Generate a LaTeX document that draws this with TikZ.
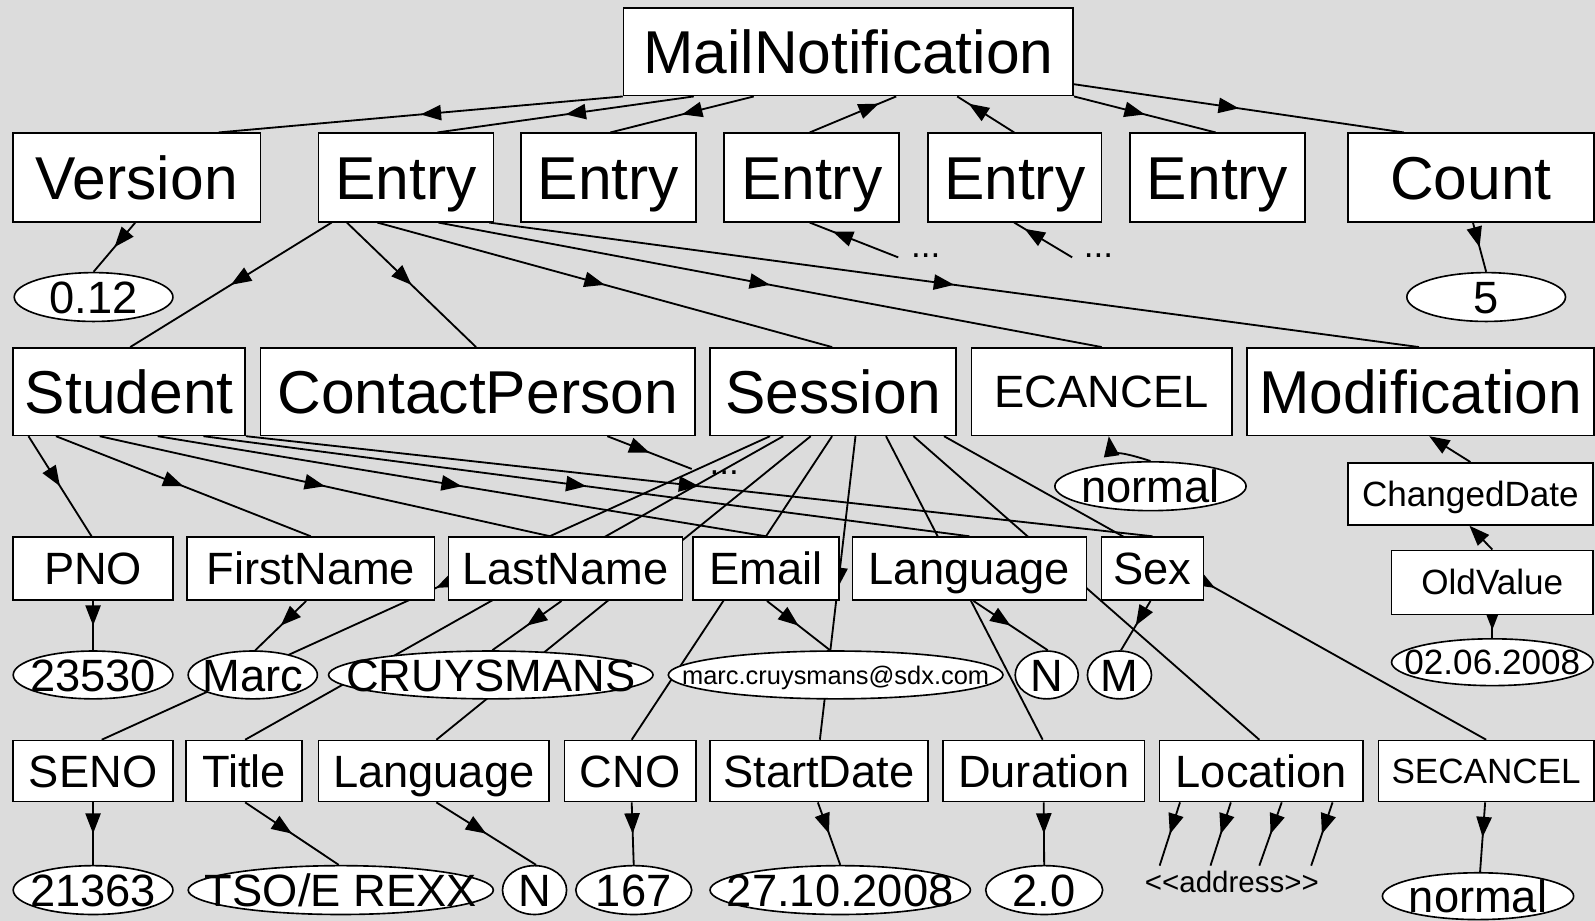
\documentclass[tikz,border=0pt]{standalone}
\usepackage{fontspec}
\setmainfont{Liberation Sans}
\usetikzlibrary{arrows.meta,shapes.geometric,decorations.markings,calc}
\definecolor{canvas}{RGB}{220,220,220}
\pgfdeclarelayer{bg}
\pgfdeclarelayer{edges}
\pgfsetlayers{bg,edges,main}
\newcommand\zw[1]{\makebox[0pt]{#1}}
\tikzset{
  fbig/.style={font=\fontsize{59.5}{60}\selectfont, text height=42.6pt, text depth=0pt},
  fmid/.style={font=\fontsize{44.5}{45}\selectfont, text height=31.9pt, text depth=0pt},
  fsmall/.style={font=\fontsize{34.5}{35}\selectfont, text height=24.7pt, text depth=0pt},
  ftiny/.style={font=\fontsize{25}{26}\selectfont, text height=17.9pt, text depth=0pt},
  faddr/.style={font=\fontsize{29}{30}\selectfont},
  sz/.style 2 args={minimum width=#1pt, minimum height=#2pt},
  rbox/.style={draw, fill=white, line width=1.6pt, rectangle, inner sep=0pt},
  vell/.style={draw, fill=white, line width=1.6pt, ellipse, inner sep=0pt},
  plain/.style={inner sep=0pt},
  conn/.style={line width=1.8pt},
  endarr/.style={-{Triangle[length=20pt,width=15pt]}},
  marr/.style={postaction={decorate}, decoration={markings, mark=at position #1 with {\arrow{Triangle[length=20pt,width=15pt]}}}},
  marr/.default=0.5,
}
\begin{document}
\begin{tikzpicture}[x=1pt,y=-1pt]
\useasboundingbox (0,0) rectangle (1568,905);

% root
\node[rbox,fbig,sz={442}{86}] (mail) at (834,51) {MailNotification};

% first level
\node[rbox,fbig,sz={243}{87}] (ver) at (134.5,174.5) {Version};
\node[rbox,fbig,sz={172}{87}] (e1) at (399,174.5) {Entry};
\node[rbox,fbig,sz={172}{87}] (e2) at (598,174.5) {Entry};
\node[rbox,fbig,sz={172}{87}] (e3) at (798,174.5) {Entry};
\node[rbox,fbig,sz={171}{87}] (e4) at (997.5,174.5) {Entry};
\node[rbox,fbig,sz={172}{87}] (e5) at (1197,174.5) {Entry};
\node[rbox,fbig,sz={242}{87}] (cnt) at (1446,174.5) {Count};

\node[vell,fmid,sz={156}{48}] (v012) at (92,292) {\zw{0.12}};
\node[vell,fmid,sz={156}{48}] (v5) at (1461,292) {\zw{5}};
\node[plain,fsmall,anchor=base] (d3) at (910,253) {...};
\node[plain,fsmall,anchor=base] (d4) at (1080,253) {...};

% children of the first entry
\node[rbox,fbig,sz={228}{86}] (stu) at (127,385) {Student};
\node[rbox,fbig,sz={427}{86}] (cp) at (469.5,385) {ContactPerson};
\node[rbox,fbig,sz={242}{86}] (ses) at (819,385) {Session};
\node[rbox,fmid,sz={256}{86}] (ecan) at (1083,385) {ECANCEL};
\node[rbox,fbig,sz={341}{86}] (mod) at (1396.5,385) {Modification};

\node[plain,fsmall,anchor=base] (dcp) at (712,466) {...};
\node[vell,fmid,sz={188}{48}] (nrm1) at (1131,478) {\zw{normal}};
\node[rbox,fsmall,sz={241}{61}] (chg) at (1445.5,485.5) {ChangedDate};
\node[rbox,fsmall,sz={198}{63}] (old) at (1467,572.5) {OldValue};
\node[vell,fsmall,sz={198}{46}] (d0206) at (1467,651) {\zw{02.06.2008}};

% student attributes
\node[rbox,fmid,sz={157}{62}] (pno) at (91.5,559) {PNO};
\node[rbox,fmid,sz={243}{62}] (fn) at (305.5,559) {FirstName};
\node[rbox,fmid,sz={230}{62}] (ln) at (556,559) {LastName};
\node[rbox,fmid,sz={144}{62}] (em) at (753,559) {Email};
\node[rbox,fmid,sz={230}{62}] (lang) at (953,559) {Language};
\node[rbox,fmid,sz={100}{62}] (sex) at (1133,559) {Sex};

\node[vell,fmid,sz={157}{47}] (v23530) at (91.5,663.5) {\zw{23530}};
\node[vell,fmid,sz={127}{47}] (marc) at (248.5,663.5) {\zw{Marc}};
\node[vell,fmid,sz={319}{47}] (cruy) at (482.5,663.5) {\zw{CRUYSMANS}};
\node[vell,ftiny,sz={329}{47}] (email) at (821.5,663.5) {\zw{marc.cruysmans@sdx.com}};
\node[vell,fmid,sz={62}{47}] (vN1) at (1029,663.5) {\zw{N}};
\node[vell,fmid,sz={63}{47}] (vM) at (1100.5,663.5) {\zw{M}};

% session attributes
\node[rbox,fmid,sz={157}{60}] (seno) at (91.5,758) {SENO};
\node[rbox,fmid,sz={114}{60}] (title) at (240,758) {Title};
\node[rbox,fmid,sz={227}{60}] (lang2) at (426.5,758) {Language};
\node[rbox,fmid,sz={129}{60}] (cno) at (619.5,758) {CNO};
\node[rbox,fmid,sz={214}{60}] (sd) at (805,758) {StartDate};
\node[rbox,fmid,sz={198}{60}] (dur) at (1026,758) {Duration};
\node[rbox,fmid,sz={200}{60}] (loc) at (1240,758) {Location};
\node[rbox,fsmall,sz={212}{60}] (secan) at (1461,758) {SECANCEL};

\node[vell,fmid,sz={157}{48}] (v21363) at (91.5,875) {\zw{21363}};
\node[vell,fmid,sz={300}{48}] (tso) at (335,875) {\zw{TSO/E REXX}};
\node[vell,fmid,sz={63}{48}] (vN2) at (525.5,875) {\zw{N}};
\node[vell,fmid,sz={114}{48}] (v167) at (623,875) {\zw{167}};
\node[vell,fmid,sz={256}{48}] (d2710) at (826,875) {\zw{27.10.2008}};
\node[vell,fmid,sz={115}{48}] (v20) at (1026.5,875) {\zw{2.0}};
\node[plain,faddr,anchor=base] (addr) at (1211,877) {<\kern0pt<address>\kern0pt>};
\node[vell,fmid,sz={188}{46}] (nrm2) at (1453,881) {\zw{normal}};

\begin{pgfonlayer}{edges}
% root and first level
\draw[conn,marr] (mail.south west) -- ($(ver.north)+(80.5,0)$);
\draw[conn,marr] ($(mail.south)+(-152,0)$) -- ($(e1.north)+(31,0)$);
\draw[conn,marr] ($(mail.south)+(-93,0)$) -- ($(e2.north)+(2,0)$);
\draw[conn,marr=0.8] ($(e3.north)+(-2,0)$) -- ($(mail.south)+(47,0)$);
\draw[conn,marr=0.8] ($(e4.north)+(-0.5,0)$) -- ($(mail.south)+(107,0)$);
\draw[conn,marr] (mail.south east) -- ($(e5.north)+(-2,0)$);
\draw[conn,marr] ($(mail.south east)+(0,-12)$) -- ($(cnt.north)+(-66,0)$);

\draw[conn,marr] ($(ver.south)+(-1.5,0)$) -- (v012.north);
\draw[conn,marr] ($(cnt.south)+(2,0)$) -- (v5.north);
\draw[conn,marr=0.74] ($(d3.base)+(-27,0)$) -- ($(e3.south)+(-2,0)$);
\draw[conn,marr=0.82] ($(d4.base)+(-26,0)$) -- ($(e4.south)+(-0.5,0)$);

% first entry
\draw[conn,marr] ($(e1.south)+(-73,0)$) -- ($(stu.north)+(1,0)$);
\draw[conn,marr] ($(e1.south)+(-58,0)$) -- ($(cp.north)+(-1.5,0)$);
\draw[conn,marr] ($(e1.south)+(-28,0)$) -- ($(ses.north)+(-1,0)$);
\draw[conn,marr] ($(e1.south)+(32,0)$) -- (ecan.north);
\draw[conn,marr] ($(e1.south)+(82,0)$) -- ($(mod.north)+(-1.5,0)$);

\draw[conn,marr] ($(cp.south)+(127.5,0)$) -- ($(dcp.base)+(-32,-5)$);
\draw[conn,endarr] (nrm1.north) .. controls +(-25,-8) and +(2,14) .. ($(ecan.south)+(7,0)$);
\draw[conn,endarr] (chg.north) -- ($(mod.south)+(8.5,0)$);
\draw[conn,endarr] (old.north) -- ($(chg.south)+(-1,0)$);
\draw[conn,marr=0.65] (old.south) -- (d0206.north);

% student
\draw[conn,marr] ($(stu.south)+(-99,0)$) -- ($(pno.north)+(-1.5,0)$);
\draw[conn,marr] ($(stu.south)+(-72,0)$) -- (fn.north);
\draw[conn,marr] ($(stu.south)+(-29,0)$) -- ($(ln.north)+(-15,0)$);
\draw[conn,marr] ($(stu.south)+(28,0)$) -- (em.north);
\draw[conn,marr] ($(stu.south)+(73,0)$) -- (lang.north);
\draw[conn,marr] (stu.south east) -- (sex.north);

\draw[conn,marr] (pno.south) -- (v23530.north);
\draw[conn,marr] ($(fn.south)+(-4.5,0)$) -- ($(marc.north)+(2.5,0)$);
\draw[conn,marr] ($(ln.south)+(-4,0)$) -- ($(cruy.north)+(1.5,0)$);
\draw[conn,marr] ($(em.south)+(1,0)$) -- ($(email.north)+(-5.5,0)$);
\draw[conn,marr] ($(lang.south)+(4,0)$) -- ($(vN1.north)+(1,0)$);
\draw[conn,marr] ($(sex.south)+(-2,0)$) -- ($(vM.north)+(1.5,0)$);

% session
\draw[conn,marr] ($(ses.south)+(-62,0)$) -- ($(seno.north)+(8.5,0)$);
\draw[conn,marr] ($(ses.south)+(-49,0)$) -- ($(title.north)+(1,0)$);
\draw[conn,marr] ($(ses.south)+(-22,0)$) -- ($(lang2.north)+(2.5,0)$);
\draw[conn,marr] ($(ses.south)+(-1,0)$) -- ($(cno.north)+(1.5,0)$);
\draw[conn,marr] ($(ses.south)+(22,0)$) -- ($(sd.north)+(1,0)$);
\draw[conn,marr] ($(ses.south)+(52,0)$) -- ($(dur.north)+(-1,0)$);
\draw[conn,marr] ($(ses.south)+(79,0)$) -- ($(loc.north)+(-2,0)$);
\draw[conn,marr] ($(ses.south)+(109,0)$) -- (secan.north);

\draw[conn,marr] (seno.south) -- (v21363.north);
\draw[conn,marr] ($(title.south)+(1,0)$) -- ($(tso.north)+(-2,0)$);
\draw[conn,marr] ($(lang2.south)+(2.5,0)$) -- ($(vN2.north)+(1.5,0)$);
\draw[conn,marr] ($(cno.south)+(1.5,0)$) -- (v167.north);
\draw[conn,marr] ($(sd.south)+(-1,0)$) -- (d2710.north);
\draw[conn,marr] (dur.south) -- (v20.north);
\draw[conn,marr] ($(loc.south)+(-80,0)$) -- ($(addr.base)+(-71,-26)$);
\draw[conn,marr] ($(loc.south)+(-30,0)$) -- ($(addr.base)+(-21,-26)$);
\draw[conn,marr] ($(loc.south)+(20,0)$) -- ($(addr.base)+(27,-26)$);
\draw[conn,marr] ($(loc.south)+(70,0)$) -- ($(addr.base)+(78,-26)$);
\draw[conn,marr] ($(secan.south)+(-1,0)$) -- ($(nrm2.north)+(2,0)$);
\end{pgfonlayer}

\begin{pgfonlayer}{bg}
\fill[canvas] (0,0) rectangle (1568,905);
\end{pgfonlayer}
\end{tikzpicture}
\end{document}
